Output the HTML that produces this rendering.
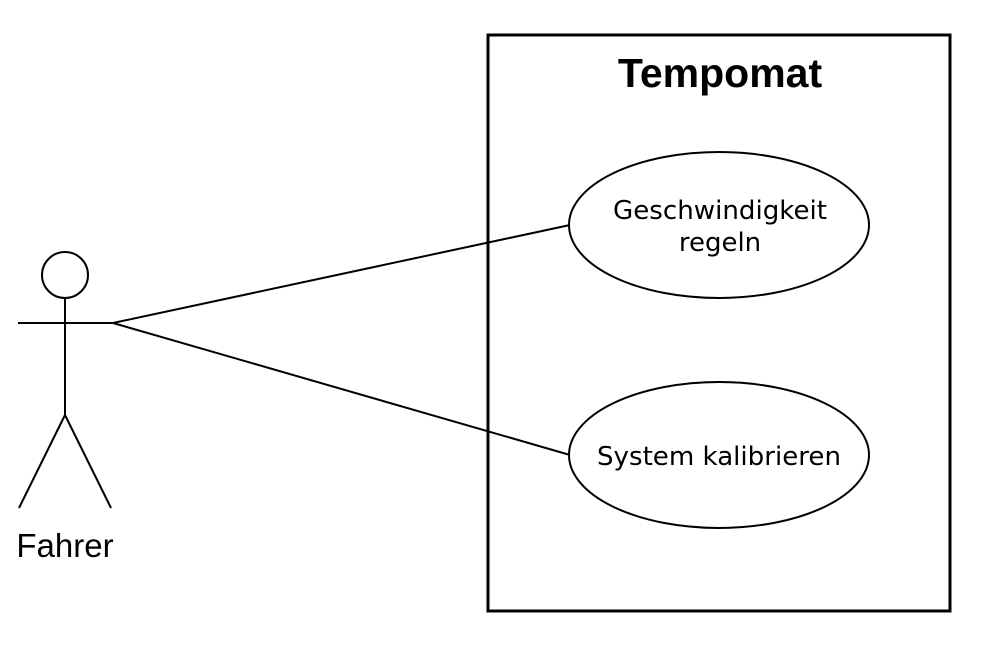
<!DOCTYPE html>
<html><head><meta charset="utf-8"><style>html,body{margin:0;padding:0;background:#fff}</style></head>
<body>
<svg width="1000" height="650" viewBox="0 0 1000 650" xmlns="http://www.w3.org/2000/svg">
<rect x="0" y="0" width="1000" height="650" fill="#fff"/>
<rect x="488" y="35" width="462" height="576" fill="none" stroke="#000" stroke-width="3"/>
<text x="720" y="87" text-anchor="middle" font-family="Liberation Sans, sans-serif" font-weight="bold" font-size="41">Tempomat</text>
<ellipse cx="719" cy="225" rx="150" ry="73" fill="#fff" stroke="#000" stroke-width="2"/>
<ellipse cx="719" cy="455" rx="150" ry="73" fill="#fff" stroke="#000" stroke-width="2"/>
<text x="720" y="219" text-anchor="middle" font-family="DejaVu Sans, sans-serif" font-size="26" textLength="214" lengthAdjust="spacingAndGlyphs">Geschwindigkeit</text>
<text x="720" y="251" text-anchor="middle" font-family="DejaVu Sans, sans-serif" font-size="26">regeln</text>
<text x="719" y="465" text-anchor="middle" font-family="DejaVu Sans, sans-serif" font-size="26" textLength="244" lengthAdjust="spacingAndGlyphs">System kalibrieren</text>
<g stroke="#000" stroke-width="2" fill="none">
<line x1="113" y1="323" x2="570" y2="225"/>
<line x1="113" y1="323" x2="570" y2="455"/>
<circle cx="65" cy="275" r="23" fill="#fff"/>
<line x1="65" y1="298" x2="65" y2="415"/>
<line x1="18" y1="323" x2="113" y2="323"/>
<line x1="65" y1="415" x2="19" y2="508"/>
<line x1="65" y1="415" x2="111" y2="508"/>
</g>
<text x="65" y="557" text-anchor="middle" font-family="Liberation Sans, sans-serif" font-size="33">Fahrer</text>
</svg>
</body></html>
